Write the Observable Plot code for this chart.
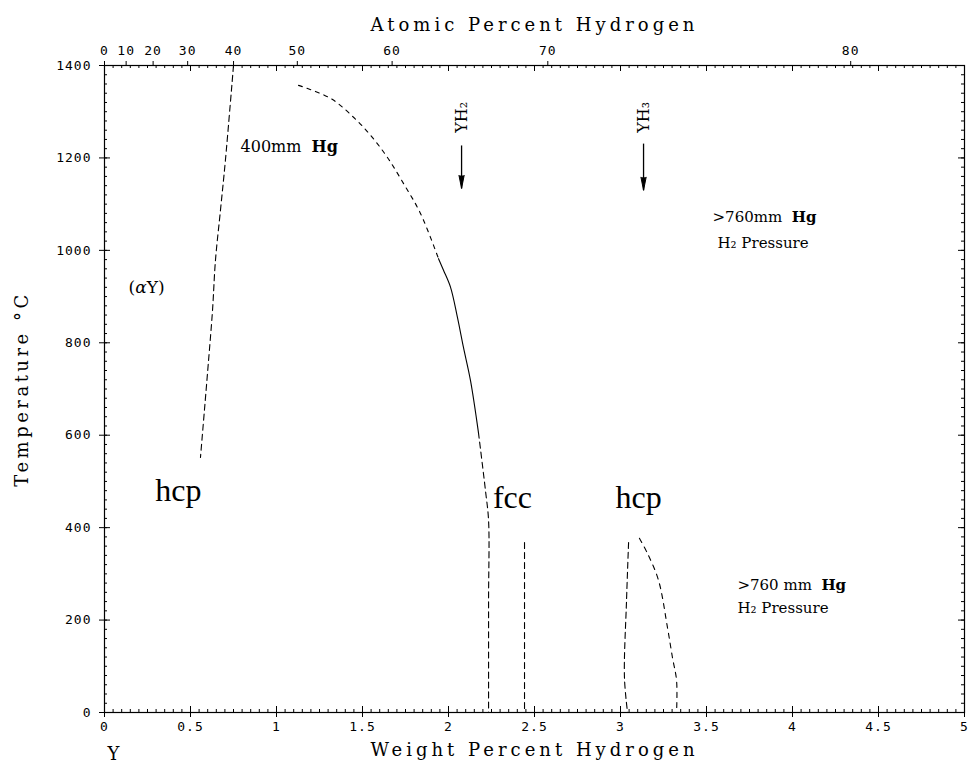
<!DOCTYPE html>
<html><head><meta charset="utf-8">
<script src="https://cdn.jsdelivr.net/npm/d3@7"></script>
<script src="https://cdn.jsdelivr.net/npm/@observablehq/plot@0.6"></script>
<style>body{margin:0;background:#fff}</style>
</head><body><div id="chart"></div>
<script>
// ---- data (weight % H, temperature °C) ----
const alphaSolvus = [[0.750,1400],[0.703,1195],[0.674,1086],[0.645,978],[0.628,870],[0.605,762],[0.581,654],[0.558,552]];
const domeUpperDashed = [[1.128,1357],[1.314,1329],[1.448,1288],[1.547,1249],[1.645,1201],[1.738,1145],[1.837,1080],[1.942,982]];
const domeSolid = [[1.942,982],[1.971,957],[2.012,920],[2.052,855],[2.087,790],[2.128,718],[2.174,606]];
const domeLowerDashed = [[2.174,606],[2.215,480],[2.233,415],[2.233,242],[2.233,0]];
const fccBoundary = [[2.442,368],[2.442,0]];
const hcpLeft = [[3.047,368],[3.035,242],[3.023,76],[3.041,0]];
const hcpRight = [[3.110,377],[3.157,344],[3.221,286],[3.273,184],[3.302,119],[3.326,69],[3.326,0]];
const arrows = [{name:"YH₂", x:2.076, top:1227, tip:1134, label:1288},{name:"YH₃", x:3.134, top:1231, tip:1130, label:1288}];
const labels = [
  {text:"400mm Hg", x:0.791, y:1223, size:16},
  {text:">760mm Hg", x:3.535, y:1071, size:15},
  {text:"H₂ Pressure", x:3.564, y:1015, size:15},
  {text:">760 mm Hg", x:3.680, y:275, size:15},
  {text:"H₂ Pressure", x:3.680, y:225, size:15},
  {text:"(αY)", x:0.14, y:920, size:17}
];
const phaseLabels = [
  {text:"hcp", x:0.43, y:480},
  {text:"fcc", x:2.372, y:465},
  {text:"hcp", x:3.105, y:465}
];
const wtMajor = [0,0.5,1,1.5,2,2.5,3,3.5,4,4.5,5];
const wtLabels = ["0","0.5","1","1.5","2","2.5","3","3.5","4","4.5","5"];
const wtMinor = d3.range(0, 5.0001, 0.05);
const tMajor = [0,200,400,600,800,1000,1200,1400];
const tLabels = ["0","200","400","600","800","1000","1200","1400"];
const tMinor = d3.range(0, 1400.1, 20);
const atTicks = [0,10,20,30,40,50,60,70,80];
const atLabels = ["0","10","20","30","40","50","60","70","80"];
// atomic % H -> weight % H (H 1.008, Y 88.906)
const atToWt = a => 100 * 1.008 * a / (1.008 * a + 88.906 * (100 - a));
const atWt = atTicks.map(atToWt);

const W = 972, H = 771, mL = 104, mR = 8, mT = 65, mB = 59;
const xMin = 0, xMax = 5, yMin = 0, yMax = 1400;
// size of one pixel in data units, used for inward tick lengths
const pxX = (xMax - xMin) / (W - mL - mR);
const pxY = (yMax - yMin) / (H - mT - mB);

const toPts = arr => arr.map(([x, y]) => ({x, y}));
const lineOpts = (dash) => ({x:"x", y:"y", stroke:"black", strokeWidth:1.1, strokeDasharray:dash, curve:"catmull-rom"});
const serif = "DejaVu Serif";
const inTicks = (data, side, len) => {
  const o = {stroke: "black", strokeWidth: 1};
  if (side === "bottom") return Plot.ruleX(data, {...o, x: d => d, y1: () => yMin, y2: () => yMin + len * pxY});
  if (side === "top") return Plot.ruleX(data, {...o, x: d => d, y1: () => yMax, y2: () => yMax - len * pxY});
  if (side === "left") return Plot.ruleY(data, {...o, y: d => d, x1: () => xMin, x2: () => xMin + len * pxX});
  return Plot.ruleY(data, {...o, y: d => d, x1: () => xMax, x2: () => xMax - len * pxX});
};

const chart = Plot.plot({
  width: W, height: H,
  marginLeft: mL, marginRight: mR, marginTop: mT, marginBottom: mB,
  x: {domain:[xMin, xMax]},
  y: {domain:[yMin, yMax]},
  style: {fontFamily:"DejaVu Sans Mono", fontSize:"13px", background:"white", color:"black"},
  marks: [
    Plot.frame({stroke:"black", strokeWidth:1.2}),
    // bottom axis
    Plot.axisX({anchor:"bottom", ticks: wtMajor, tickSize:5, tickPadding:4, tickFormat: d => wtLabels[wtMajor.indexOf(d)], label:null}),
    inTicks(wtMajor, "bottom", 6), inTicks(wtMinor, "bottom", 3),
    // top axis (atomic %) + mirrored weight % ticks
    Plot.axisX({anchor:"top", ticks: atWt, tickSize:5, tickPadding:6, tickFormat: d => atLabels[atWt.indexOf(d)], label:null}),
    inTicks(wtMajor, "top", 6), inTicks(wtMinor, "top", 3),
    // left axis
    Plot.axisY({anchor:"left", ticks: tMajor, tickSize:5, tickPadding:8, tickFormat: d => tLabels[tMajor.indexOf(d)], label:null}),
    inTicks(tMajor, "left", 6), inTicks(tMinor, "left", 3),
    // right axis mirrored
    inTicks(tMajor, "right", 6), inTicks(tMinor, "right", 3),
    // phase boundaries
    Plot.line(toPts(alphaSolvus), lineOpts("6,4")),
    Plot.line(toPts(domeUpperDashed), lineOpts("4,5")),
    Plot.line(toPts(domeSolid), lineOpts(null)),
    Plot.line(toPts(domeLowerDashed), lineOpts("6,4")),
    Plot.line(toPts(fccBoundary), lineOpts("6,4")),
    Plot.line(toPts(hcpLeft), lineOpts("6,4")),
    Plot.line(toPts(hcpRight), lineOpts("5,5")),
    // compound arrows
    Plot.link(arrows, {x1:"x", x2:"x", y1:"top", y2:"tip", stroke:"black", strokeWidth:1.3}),
    Plot.vector(arrows, {x:"x", y:"tip", length:13, r:2.6, rotate:180, anchor:"end", shape:"spike", fill:"black", stroke:"black", strokeWidth:1}),
    Plot.text(arrows, {x:"x", y:"label", text:"name", rotate:-90, fontFamily:serif, fontSize:16}),
    // annotations
    Plot.text(labels, {x:"x", y:"y", text:"text", fontFamily:serif, fontSize:"size", textAnchor:"start"}),
    Plot.text(phaseLabels, {x:"x", y:"y", text:"text", fontFamily:"Liberation Serif", fontSize:32}),
    // axis titles
    Plot.text(["Weight Percent Hydrogen"], {frameAnchor:"bottom", dy:43, fontFamily:serif, fontSize:18, textAnchor:"middle"}),
    Plot.text(["Atomic Percent Hydrogen"], {frameAnchor:"top", dy:-47, fontFamily:serif, fontSize:18, textAnchor:"middle"}),
    Plot.text(["Temperature °C"], {frameAnchor:"left", dx:-82, dy:0, rotate:-90, fontFamily:serif, fontSize:18, textAnchor:"middle"}),
    Plot.text(["Y"], {frameAnchor:"bottom-left", dx:9, dy:47, fontFamily:serif, fontSize:18, textAnchor:"middle"})
  ]
});
document.getElementById("chart").appendChild(chart);

// typographic touches
const svg = d3.select(chart);
svg.selectAll("text").each(function() {
  const t = this.textContent;
  if (["Weight Percent Hydrogen","Atomic Percent Hydrogen"].includes(t)) this.setAttribute("letter-spacing","4");
  if (t === "Temperature °C") this.setAttribute("letter-spacing","3.5");
  if (/^[0-9.]+$/.test(t)) this.setAttribute("letter-spacing","1");
});
function rich(original, parts) {
  svg.selectAll("text").filter(function(){ return this.textContent === original; }).each(function() {
    const el = d3.select(this);
    el.text(null);
    for (const p of parts) {
      const ts = el.append("tspan").text(p.t);
      if (p.w) ts.attr("font-weight", p.w);
      if (p.s) ts.attr("font-style", p.s);
    }
  });
}
rich("400mm Hg", [{t:"400mm  "},{t:"Hg", w:"bold"}]);
rich(">760mm Hg", [{t:">760mm  "},{t:"Hg", w:"bold"}]);
rich(">760 mm Hg", [{t:">760 mm  "},{t:"Hg", w:"bold"}]);
rich("(αY)", [{t:"("},{t:"α", s:"italic"},{t:"Y)"}]);
svg.selectAll("text").style("white-space","pre");
</script>
</body></html>
